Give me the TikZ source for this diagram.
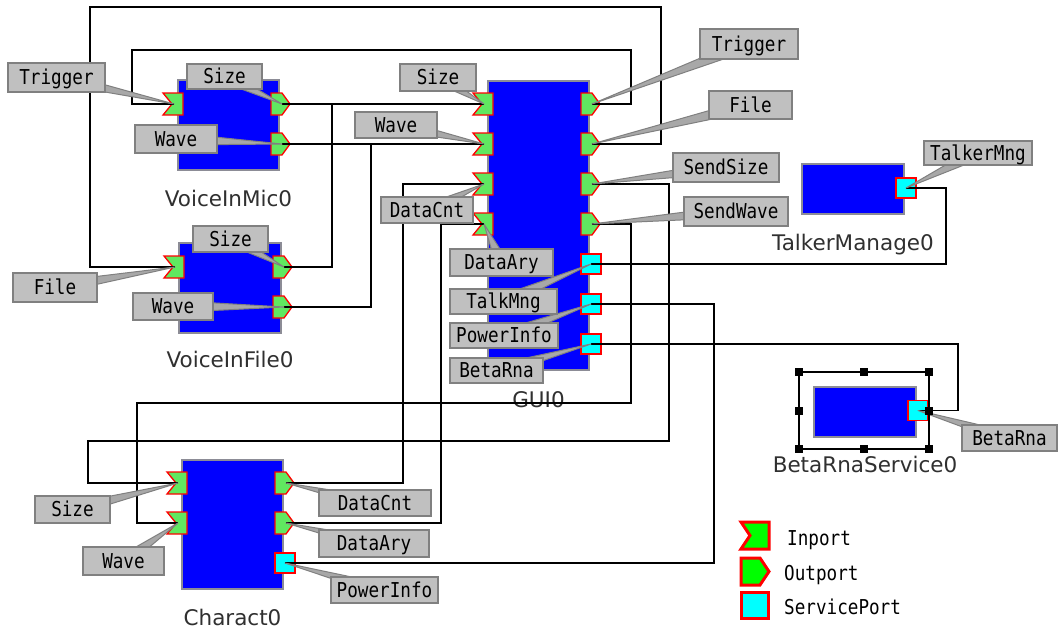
\documentclass[tikz,border=0pt]{standalone}
\usepackage{fontspec}
\usetikzlibrary{calc}
\newfontfamily\portfont[FakeStretch=0.86]{DejaVu Sans Mono}
\newfontfamily\namefont{DejaVu Sans}
\pgfdeclarelayer{fg}
\pgfsetlayers{main,fg}

\definecolor{portgreen}{RGB}{96,232,96}
\definecolor{legreen}{RGB}{0,255,0}
\definecolor{svccyan}{RGB}{0,255,255}
\definecolor{lblfill}{RGB}{192,192,192}
\definecolor{lbldraw}{RGB}{128,128,128}
\definecolor{wedgefill}{RGB}{168,168,168}
\definecolor{compblue}{RGB}{0,0,255}
\definecolor{compedge}{RGB}{140,140,150}
\definecolor{namegray}{RGB}{48,48,48}

\tikzset{
  comp/.style={draw=compedge, fill=compblue, line width=1.5pt, inner sep=0pt, outer sep=0pt},
  port/.style={draw=red, fill=portgreen, line width=1.3pt, line join=miter},
  svc/.style={draw=red, fill=svccyan, line width=1.3pt},
  legport/.style={draw=red, line width=3pt, line join=miter},
  wire/.style={draw=black, line width=1.4pt},
  wedge/.style={fill=wedgefill, draw=lbldraw, line width=1pt, line join=round},
  lbl/.style={draw=lbldraw, fill=lblfill, line width=2pt, inner sep=0pt,
    text height=14.5pt, text depth=0pt,
    font=\portfont\fontsize{20.5}{21}\selectfont},
  legtxt/.style={anchor=base west, inner sep=0pt,
    font=\portfont\fontsize{20.5}{21}\selectfont},
  cname/.style={anchor=base, text=namegray, inner sep=0pt,
    font=\namefont\fontsize{21.5}{24}\selectfont},
  handle/.style={fill=black, minimum size=8pt, inner sep=0pt},
}

% inport: name, left edge of component, y
\newcommand\inport[3]{%
  \filldraw[port] ({#2-15},{#3-11}) -- ({#2+5},{#3-11}) -- ({#2+5},{#3+11})
    -- ({#2-15},{#3+11}) -- ({#2-6},#3) -- cycle;
  \coordinate (#1) at ({#2-4},#3);}
% outport: name, right edge of component, y
\newcommand\outport[3]{%
  \filldraw[port] ({#2-8},{#3-11}) -- ({#2+3},{#3-11}) -- ({#2+11},#3)
    -- ({#2+3},{#3+11}) -- ({#2-8},{#3+11}) -- cycle;
  \coordinate (#1) at ({#2+3},#3);}
% service port: name, right edge of component, y
\newcommand\svcport[3]{%
  \filldraw[svc] ({#2-8},{#3-10}) rectangle ({#2+12},{#3+10});
  \coordinate (#1) at ({#2+2},#3);}
% port label with its pointer: name, x, y, width, height, text, port
\newcommand\callout[7]{%
  \coordinate (#1c) at (#2,#3);
  \filldraw[wedge] ($(#1c)!6pt!90:(#7)$) -- (#7) -- ($(#1c)!6pt!-90:(#7)$) -- cycle;
  \begin{pgfonlayer}{fg}
    \node[lbl, minimum width=#4pt, minimum height=#5pt] (#1) at (#1c) {#6};
  \end{pgfonlayer}}

\begin{document}
\begin{tikzpicture}[x=1pt, y=-1pt]
\useasboundingbox (0,0) rectangle (1058,629);
\fill[white] (0,0) rectangle (1058,629);

% components
\node[comp, minimum width=101pt, minimum height=90pt]  (vim) at (228.5,125) {};
\node[comp, minimum width=102pt, minimum height=90pt]  (vif) at (230,288) {};
\node[comp, minimum width=101pt, minimum height=289pt] (gui) at (538.5,225.5) {};
\node[comp, minimum width=102pt, minimum height=50pt]  (tm)  at (853,189) {};
\node[comp, minimum width=102pt, minimum height=50pt]  (brs) at (865,412) {};
\node[comp, minimum width=101pt, minimum height=129pt] (ch)  at (232.5,524.5) {};

% component names
\node[cname] (vimName) at (228.5,206) {VoiceInMic0};
\node[cname] (vifName) at (230,367) {VoiceInFile0};
\node[cname] (guiName) at (538.5,407) {GUI0};
\node[cname] (tmName)  at (853,250) {TalkerManage0};
\node[cname] (brsName) at (865,472) {BetaRnaService0};
\node[cname] (chName)  at (232.5,625) {Charact0};

% ports
\inport{vimTrig}{178}{104}
\outport{vimSize}{279}{104}
\outport{vimWave}{279}{144}
\inport{vifFile}{179}{267}
\outport{vifSize}{281}{267}
\outport{vifWave}{281}{307}
\inport{gIn1}{488}{104}
\inport{gIn2}{488}{144}
\inport{gIn3}{488}{184}
\inport{gIn4}{488}{224}
\outport{gOut1}{589}{104}
\outport{gOut2}{589}{144}
\outport{gOut3}{589}{184}
\outport{gOut4}{589}{224}
\svcport{gSv1}{589}{264}
\svcport{gSv2}{589}{304}
\svcport{gSv3}{589}{344}
\svcport{tmSv}{904}{188}
\svcport{brsSv}{916}{410.5}
\inport{chSize}{182}{483}
\inport{chWave}{182}{523}
\outport{chCnt}{283}{483}
\outport{chAry}{283}{523}
\svcport{chPow}{283}{563}

% connections
\draw[wire] (gOut1) -| (631,50) -- (132,50) |- (vimTrig);
\draw[wire] (gOut2) -| (661,7) -- (90,7) |- (vifFile);
\draw[wire] (vimSize) -- (gIn1);
\draw[wire] (vifSize) -- (332,267) |- (gIn1);
\draw[wire] (vimWave) -- (gIn2);
\draw[wire] (vifWave) -- (371,307) |- (gIn2);
\draw[wire] (chCnt) -- (403,483) |- (gIn3);
\draw[wire] (chAry) -- (441,523) |- (gIn4);
\draw[wire] (gOut3) -| (669,441) -- (88,441) |- (chSize);
\draw[wire] (gOut4) -| (631,403) -- (137,403) |- (chWave);
\draw[wire] (gSv1) -| (946,188) -- (tmSv);
\draw[wire] (gSv2) -| (714,563) -- (chPow);
\draw[wire] (gSv3) -| (958,410.5) -- (brsSv);

% port labels
\callout{lA}{56.5}{77.5}{97}{29}{Trigger}{vimTrig}
\callout{lB}{224.5}{76.5}{75}{25}{Size}{vimSize}
\callout{lC}{176}{139}{82}{28}{Wave}{vimWave}
\callout{lD}{230.5}{239}{75}{26}{Size}{vifSize}
\callout{lE}{55}{287.5}{84}{29}{File}{vifFile}
\callout{lF}{173}{306.5}{80}{27}{Wave}{vifWave}
\callout{lG}{438}{77.5}{76}{27}{Size}{gIn1}
\callout{lH}{396}{125}{82}{26}{Wave}{gIn2}
\callout{lI}{427}{210}{92}{26}{DataCnt}{gIn3}
\callout{lJ}{501.5}{262.5}{103}{27}{DataAry}{gIn4}
\callout{lK}{503.5}{301}{107}{25}{TalkMng}{gSv1}
\callout{lL}{504}{335.5}{108}{25}{PowerInfo}{gSv2}
\callout{lM}{496.5}{370.5}{93}{25}{BetaRna}{gSv3}
\callout{lN}{749}{44}{98}{30}{Trigger}{gOut1}
\callout{lO}{750.5}{105}{83}{28}{File}{gOut2}
\callout{lP}{726}{167.5}{106}{29}{SendSize}{gOut3}
\callout{lQ}{736}{211.5}{104}{29}{SendWave}{gOut4}
\callout{lR}{978}{153}{108}{24}{TalkerMng}{tmSv}
\callout{lS}{1009.5}{438}{95}{26}{BetaRna}{brsSv}
\callout{lT}{72.5}{509.5}{75}{27}{Size}{chSize}
\callout{lU}{123.5}{561}{81}{28}{Wave}{chWave}
\callout{lV}{375}{503}{112}{26}{DataCnt}{chCnt}
\callout{lW}{374}{543.5}{110}{27}{DataAry}{chAry}
\callout{lX}{384.5}{590}{107}{26}{PowerInfo}{chPow}

% selection frame around BetaRnaService0
\begin{pgfonlayer}{fg}
  \draw[line width=1.5pt] (799,372) rectangle (929,449);
  \node[handle] (h1) at (799,372) {};
  \node[handle] (h2) at (864,372) {};
  \node[handle] (h3) at (929,372) {};
  \node[handle] (h4) at (799,410.5) {};
  \node[handle] (h5) at (929,410.5) {};
  \node[handle] (h6) at (799,449) {};
  \node[handle] (h7) at (864,449) {};
  \node[handle] (h8) at (929,449) {};
\end{pgfonlayer}

% legend
\filldraw[legport, fill=legreen] (741,522) -- (769,522) -- (769,549) -- (741,549) -- (750,535.5) -- cycle;
\filldraw[legport, fill=legreen] (741,558) -- (760,558) -- (769,571.5) -- (760,585) -- (741,585) -- cycle;
\filldraw[legport, fill=svccyan] (741,592) rectangle (768,618);
\node[legtxt] (legIn)  at (787,545) {Inport};
\node[legtxt] (legOut) at (784,580) {Outport};
\node[legtxt] (legSv)  at (784,614) {ServicePort};
\end{tikzpicture}
\end{document}
